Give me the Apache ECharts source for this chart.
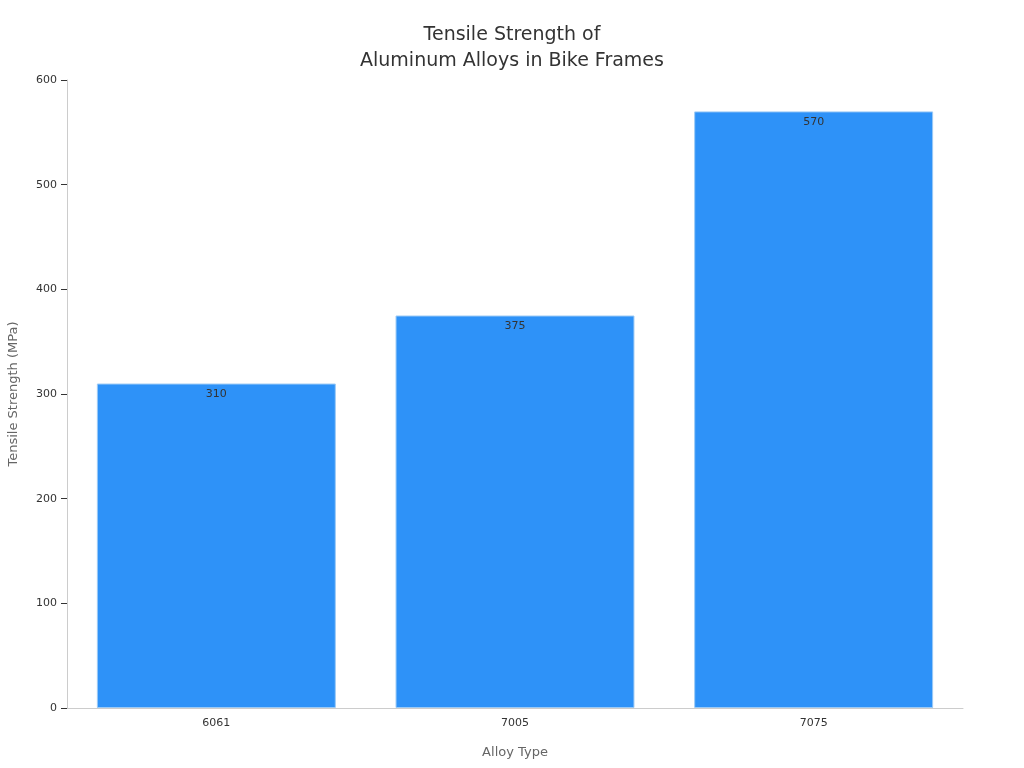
<!DOCTYPE html>
<html>
<head>
<meta charset="utf-8">
<script src="https://cdn.jsdelivr.net/npm/echarts@6/dist/echarts.min.js"></script>
<style>html,body{margin:0;padding:0;background:#fff}#chart{width:1024px;height:768px}</style>
</head>
<body>
<div id="chart"></div>
<script>
const categories = ['6061', '7005', '7075'];
const strengths = [310, 375, 570];

const chart = echarts.init(document.getElementById('chart'));
chart.setOption({
    textStyle: { fontFamily: 'DejaVu Sans' },
    title: {
        text: 'Tensile Strength of\nAluminum Alloys in Bike Frames',
        left: 'center', top: 17,
        textStyle: { fontSize: 19, fontWeight: 'normal', color: '#333', lineHeight: 26 }
    },
    grid: { left: 67, right: 61, top: 80, bottom: 60, containLabel: false, outerBoundsMode: 'none' },
    xAxis: {
        type: 'category',
        data: categories,
        name: 'Alloy Type', nameLocation: 'middle', nameGap: 38,
        nameTextStyle: { fontSize: 13, color: '#666' },
        axisLine: { lineStyle: { color: '#ccc' } },
        axisTick: { alignWithLabel: true, length: 6, lineStyle: { color: '#333' } },
        axisLabel: { color: '#333', fontSize: 11, margin: 10 }
    },
    yAxis: {
        type: 'value', min: 0, max: 600, interval: 100,
        name: 'Tensile Strength (MPa)', nameLocation: 'middle', nameGap: 47,
        nameTextStyle: { fontSize: 13, color: '#666' },
        axisLine: { show: true, lineStyle: { color: '#ccc' } },
        axisTick: { show: true, length: 6, lineStyle: { color: '#333' } },
        axisLabel: { color: '#333', fontSize: 11, margin: 10 },
        splitLine: { show: false }
    },
    series: [{
        type: 'bar',
        data: strengths,
        barWidth: '80%',
        itemStyle: { color: '#2e92f8', borderColor: '#9ccaf5', borderWidth: 1 },
        label: { show: true, position: 'insideTop', color: '#333', fontSize: 11 }
    }]
});
</script>
</body>
</html>
